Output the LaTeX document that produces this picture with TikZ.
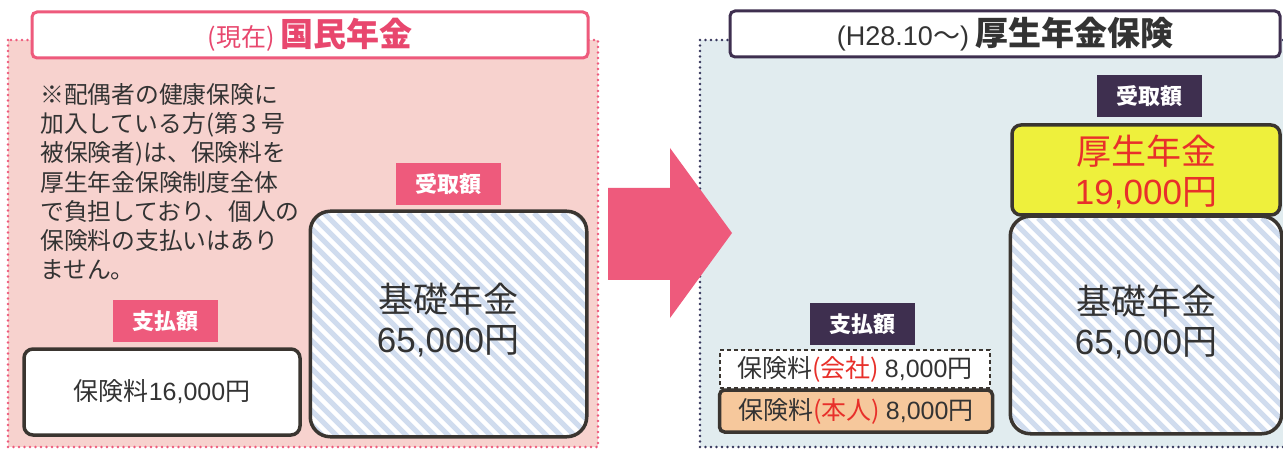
\documentclass[tikz,border=0pt]{standalone}
\usepackage{fontspec}
\setmainfont{Noto Sans CJK JP}
\newfontfamily\lat{Liberation Sans}
\definecolor{pinkbg}{HTML}{F7D2CE}
\definecolor{bluebg}{HTML}{E1ECEF}
\definecolor{pinkc}{HTML}{EE5A7C}
\definecolor{pinkt}{HTML}{E8476E}
\definecolor{navyc}{HTML}{3E2F4F}
\definecolor{boxc}{HTML}{3A3530}
\definecolor{yel}{HTML}{EEF03C}
\definecolor{orng}{HTML}{F6C89C}
\definecolor{redt}{HTML}{E8302A}
\definecolor{hatch}{HTML}{D0DCEE}
\definecolor{txt}{HTML}{333333}
\definecolor{navydot}{HTML}{34345A}
\begin{document}
\begin{tikzpicture}[x=1pt,y=-1pt,
  every node/.style={text=txt},
  box/.style={draw=boxc, line width=3.5pt, rounded corners=9pt, inner sep=0pt},
  bigbox/.style={draw=boxc, line width=3.5pt, rounded corners=20pt, inner sep=0pt},
  lbl/.style={font=\fontsize{22}{24}\selectfont\bfseries, text=white, minimum width=105pt, minimum height=42pt, inner sep=0pt},
  titlebox/.style={fill=white, line width=3pt, rounded corners=5pt, minimum height=46pt, inner sep=0pt},
  dotline/.style={line width=2.8pt, dash pattern=on 0pt off 5.5pt, line cap=round},
  big/.style={font=\fontsize{35}{40}\selectfont, align=center},
  mid/.style={font=\fontsize{25}{28}\selectfont}
]
\useasboundingbox (0,0) rectangle (1283,449);
\fill[white] (0,0) rectangle (1283,449);
% backgrounds
\fill[pinkbg] (8,40) rectangle (598,447);
\draw[pinkc, dotline] (8,40) rectangle (598,447);
\fill[bluebg] (700,40) rectangle (1283,447);
\draw[navydot, dotline] (1283,40) -- (700,40) -- (700,447) -- (1283,447);
% titles
\node[titlebox, draw=pinkc, minimum width=556pt] (tl) at (310,35)
  {{\fontsize{25}{27}\selectfont\color{pinkt}(現在) }{\fontsize{33}{36}\selectfont\bfseries\color{pinkt}国民年金}};
\node[titlebox, draw=navyc, minimum width=550pt] (tr) at (1005,34)
  {{\fontsize{27}{29}\selectfont{\lat (H28.10}～{\lat )} }{\fontsize{33}{36}\selectfont\bfseries 厚生年金保険}};
% note
\node[anchor=north west, align=left, font=\fontsize{23.8}{29.3}\selectfont, inner sep=0pt] (note) at (40,83)
  {※配偶者の健康保険に\\加入している方(第３号\\被保険者)は、保険料を\\厚生年金保険制度全体\\で負担しており、個人の\\保険料の支払いはあり\\ません。};
% left side
\node[lbl, fill=pinkc] (rl) at (448,184) {受取額};
\node[lbl, fill=pinkc] (pl) at (165,321) {支払額};
\node[box, fill=white, minimum width=276pt, minimum height=86pt, mid] (payl) at (162,392) {保険料{\lat 16,000}円};
\node[bigbox, minimum width=273pt, minimum height=222pt] (basl) at (448.5,324) {};
\begin{scope}
  \clip[rounded corners=20pt] (basl.north west) rectangle (basl.south east);
  \fill[white] (basl.north west) rectangle (basl.south east);
  \foreach \i in {-240,-226,...,300} \draw[hatch, line width=5pt] (312+\i,213) -- ++(240,240);
\end{scope}
\draw[boxc, line width=3.5pt, rounded corners=20pt] (basl.north west) rectangle (basl.south east);
\node[big] (basltxt) at (448,320) {基礎年金\\{\lat 65,000}円};
% arrow
\fill[pinkc] (608,188) -- (670,188) -- (670,148) -- (732,233) -- (670,318) -- (670,280) -- (608,280) -- cycle;
% right side
\node[lbl, fill=navyc] (rr) at (1149,96) {受取額};
\node[box, fill=yel, minimum width=268pt, minimum height=90pt] (kosei) at (1146,170) {};
\node[big, text=redt] (koseitxt) at (1146,172) {厚生年金\\{\lat 19,000}円};
\node[bigbox, minimum width=268pt, minimum height=214pt] (basr) at (1146,325) {};
\begin{scope}
  \clip[rounded corners=20pt] (basr.north west) rectangle (basr.south east);
  \fill[white] (basr.north west) rectangle (basr.south east);
  \foreach \i in {-240,-226,...,300} \draw[hatch, line width=5pt] (1012+\i,218) -- ++(240,240);
\end{scope}
\draw[boxc, line width=3.5pt, rounded corners=20pt] (basr.north west) rectangle (basr.south east);
\node[big] (basrtxt) at (1146,322) {基礎年金\\{\lat 65,000}円};
\node[lbl, fill=navyc] (pr) at (862,324) {支払額};
\node[draw=boxc, dash pattern=on 4pt off 3pt, line width=1.3pt, fill=white, minimum width=270pt, minimum height=38pt, inner sep=0pt, mid] (comp) at (855,369)
  {保険料{\color{redt}(会社)} {\lat 8,000}円};
\node[box, rounded corners=5pt, fill=orng, minimum width=273pt, minimum height=42pt, mid] (self) at (856,411)
  {保険料{\color{redt}(本人)} {\lat 8,000}円};
\end{tikzpicture}
\end{document}
